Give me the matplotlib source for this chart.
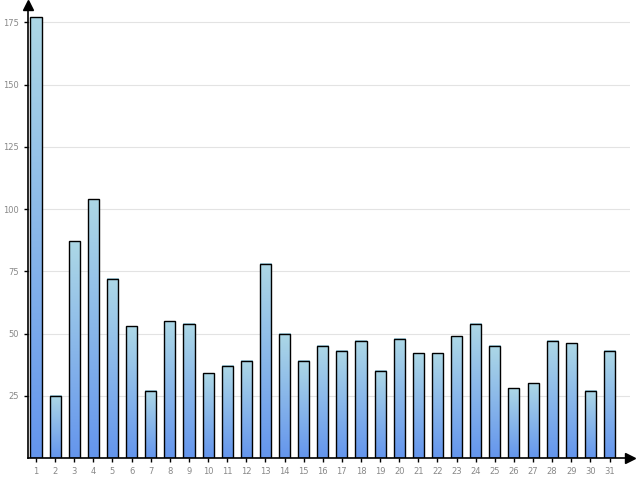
import numpy as np
import matplotlib.pyplot as plt
from matplotlib.colors import LinearSegmentedColormap

# datos
days = list(range(1, 32))
values = [177, 25, 87, 104, 72, 53, 27, 55, 54, 34, 37, 39, 78, 50, 39, 45,
          43, 47, 35, 48, 42, 42, 49, 54, 45, 28, 30, 47, 46, 27, 43]
y_ticks = [25, 50, 75, 100, 125, 150, 175]

fig = plt.figure(figsize=(6.4, 4.8), dpi=100)
ax = fig.add_axes([0.04375, 0.0458, 0.94, 0.944])

cmap = LinearSegmentedColormap.from_list("grad", ["#6495ED", "#ADD8E6"])
grad = np.linspace(1, 0, 256).reshape(-1, 1)
width = 0.58

for d, v in zip(days, values):
    ax.imshow(grad, cmap=cmap, extent=[d - width / 2, d + width / 2, 0, v],
              aspect="auto", zorder=2, interpolation="bicubic")
ax.bar(days, values, width=width, facecolor="none", edgecolor="black",
       linewidth=1.0, zorder=3)

ax.set_xlim(0.58, 32.05)
ax.set_ylim(0, 182)
ax.set_xticks(days)
ax.set_xticklabels([str(d) for d in days])
ax.set_yticks(y_ticks)
ax.yaxis.grid(True, color="#e3e3e3", linewidth=0.8, zorder=0)
ax.set_axisbelow(True)

for s in ["top", "right"]:
    ax.spines[s].set_visible(False)
for s in ["left", "bottom"]:
    ax.spines[s].set_linewidth(1.2)
    ax.spines[s].set_color("black")

ax.tick_params(axis="both", labelsize=6, labelcolor="#888888", length=3,
               width=1, color="black")

# flechas de los ejes
ax.plot(1, 0, marker=">", color="black", markersize=7, transform=ax.transAxes, clip_on=False)
ax.plot(0, 1, marker="^", color="black", markersize=7, transform=ax.transAxes, clip_on=False)

plt.savefig("out.png", dpi=100)
